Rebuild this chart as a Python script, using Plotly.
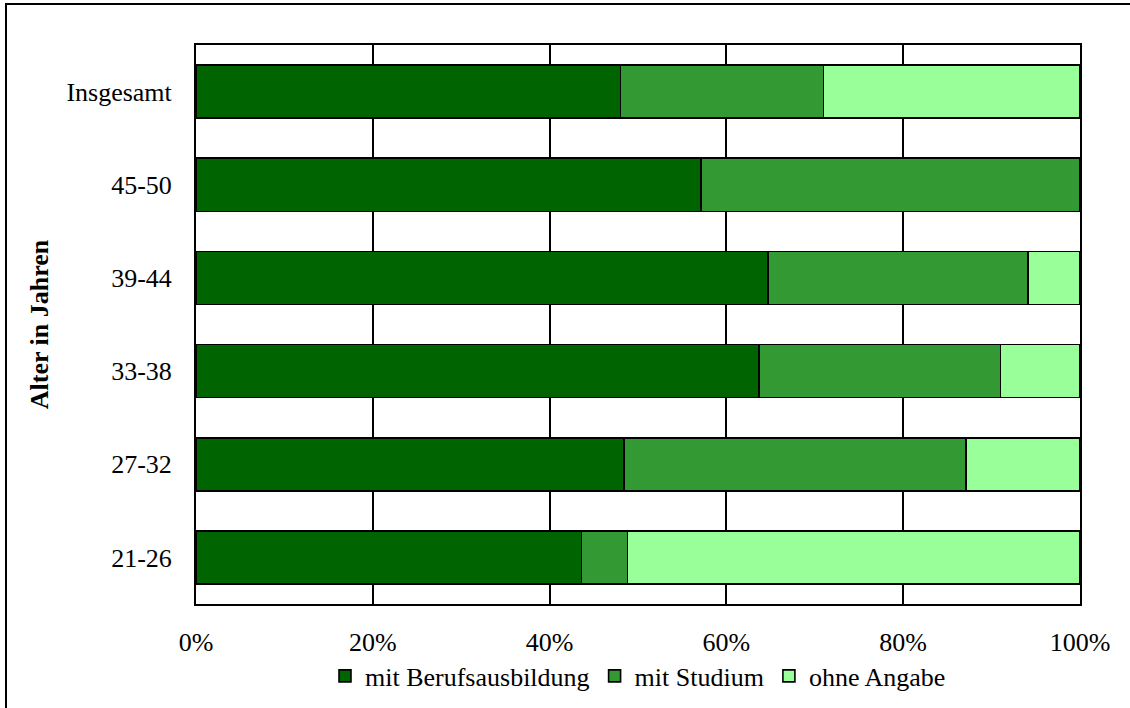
import plotly.graph_objects as go

categories = ["Insgesamt", "45-50", "39-44", "33-38", "27-32", "21-26"]
berufsausbildung = [48.0, 57.1, 64.7, 63.7, 48.4, 43.6]
studium = [23.0, 42.9, 29.4, 27.3, 38.7, 5.2]
ohne_angabe = [29.0, 0.0, 5.9, 9.0, 12.9, 51.2]
tick_values = [0, 20, 40, 60, 80, 100]
tick_labels = ["0%", "20%", "40%", "60%", "80%", "100%"]

series = [
    ("mit Berufsausbildung", berufsausbildung, "#006400"),
    ("mit Studium", studium, "#339933"),
    ("ohne Angabe", ohne_angabe, "#99FF99"),
]

FONT = "Liberation Serif"

fig = go.Figure()
for name, vals, color in series:
    fig.add_trace(go.Bar(
        y=categories, x=vals, name=name, orientation="h",
        marker=dict(color=color, line=dict(color="black", width=1.6)),
    ))

W, H = 1130, 708
ml, mr, mt, mb = 196, 50, 45, 104
pw, ph = W - ml - mr, H - mt - mb

def px_x(p):
    return (p - ml) / pw

def px_y(p):
    return (H - mb - p) / ph

fig.update_layout(
    width=W, height=H,
    margin=dict(l=ml, r=mr, t=mt, b=mb, autoexpand=False),
    barmode="stack", bargap=0.43,
    paper_bgcolor="white", plot_bgcolor="white",
    font=dict(family=FONT, size=26, color="black"),
    showlegend=True,
    legend=dict(orientation="h", x=0.5, xanchor="center", y=px_y(676), yanchor="middle",
                font=dict(family=FONT, size=26, color="black"), traceorder="normal",
                itemwidth=30, bgcolor="rgba(0,0,0,0)"),
    xaxis=dict(range=[0, 100], tickvals=tick_values, ticktext=tick_labels,
               showgrid=True, gridcolor="black", gridwidth=1.5,
               showline=True, linecolor="black", linewidth=2, mirror=True,
               ticks="", zeroline=False, ticklabelstandoff=14, automargin=False),
    yaxis=dict(autorange="reversed", showgrid=False, showline=True, linecolor="black",
               linewidth=2, mirror=True, ticks="", ticklabelstandoff=17, automargin=False,
               title=dict(text="<b>Alter in Jahren</b>", standoff=10,
                          font=dict(family=FONT, size=26, color="black"))),
    shapes=[dict(type="rect", xref="paper", yref="paper",
                 x0=px_x(6), x1=px_x(1140), y0=px_y(720), y1=px_y(4),
                 line=dict(color="black", width=2), fillcolor="rgba(0,0,0,0)", layer="below")],
)

fig.write_html("out.html")
